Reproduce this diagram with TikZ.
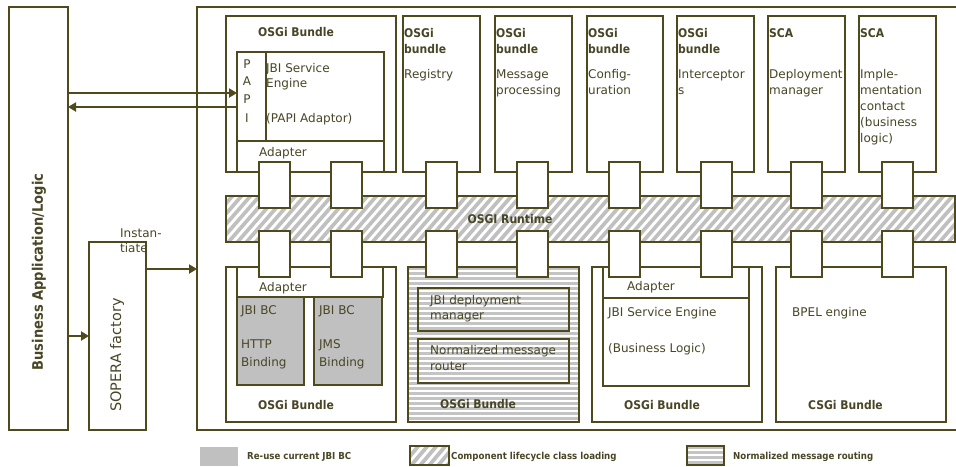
\documentclass[tikz,border=0pt]{standalone}
\usepackage{fontspec}
\setmainfont{DejaVu Sans}[BoldFeatures={FakeStretch=0.9}]
\usetikzlibrary{arrows.meta}
\definecolor{olv}{RGB}{78,74,30}
\definecolor{txt}{RGB}{72,70,38}
\definecolor{gfill}{RGB}{192,192,192}
\definecolor{sgray}{RGB}{196,196,196}
\tikzset{
  rbox/.style={draw=olv, line width=1.6pt, fill=white, anchor=north west, inner sep=0pt, outer sep=0pt},
  ebox/.style={draw=olv, line width=1.6pt, anchor=north west, inner sep=0pt, outer sep=0pt},
  gbox/.style={draw=olv, line width=1.6pt, fill=gfill, anchor=north west, inner sep=0pt, outer sep=0pt},
  conn/.style={draw=olv, line width=1.6pt, fill=white, anchor=north west, inner sep=0pt, outer sep=0pt, minimum width=31pt, minimum height=46pt},
  tx/.style={anchor=base west, inner sep=0pt, text=txt, font=\fontsize{12}{14}\selectfont},
  btx/.style={anchor=base west, inner sep=0pt, text=txt, font=\fontsize{12}{14}\selectfont\bfseries},
  ltx/.style={anchor=west, inner sep=0pt, text=txt, font=\fontsize{9.6}{11}\selectfont\bfseries},
  arr/.style={draw=olv, line width=2.6pt, -{Triangle[length=8pt,width=9pt]}},
}
\begin{document}
\begin{tikzpicture}[x=1pt,y=-1pt]
\useasboundingbox (0,0) rectangle (956,466);
% outer frames
\node[ebox, minimum width=800pt, minimum height=423pt] (outer) at (197,7) {};
\node[ebox, minimum width=59pt, minimum height=423pt] (biz) at (9,7) {};
\node[ebox, minimum width=57pt, minimum height=188pt] (sop) at (89,242) {};
\node[rotate=90, text=txt, font=\fontsize{14.5}{16}\selectfont\bfseries, inner sep=0pt] (biztx) at (39,272) {Business Application/Logic};
\node[rotate=90, text=txt, font=\fontsize{14.5}{16}\selectfont, inner sep=0pt] (soptx) at (117,355) {SOPERA factory};
\node[tx] (inst1) at (120,237) {Instan-};
\node[tx] (inst2) at (120,252) {tiate};

% top row bundles
\node[rbox, minimum width=170pt, minimum height=156pt] (papib) at (226,16) {};
\node[ebox, minimum width=147pt, minimum height=120pt] (jbi) at (237,52) {};
\draw[olv, line width=1.6pt] (jbi.west |- 0,141) coordinate (adl) -- (jbi.east |- 0,141) coordinate (adr);
\draw[olv, line width=1.6pt] (266,52) coordinate (pdt) -- (266,141) coordinate (pdb);
\node[btx] (t1) at (258,36) {OSGi Bundle};
\node[anchor=base, inner sep=0pt, text=txt, font=\fontsize{12}{14}\selectfont] (pp1) at (247,68) {P};
\node[anchor=base, inner sep=0pt, text=txt, font=\fontsize{12}{14}\selectfont] (pp2) at (247,85) {A};
\node[anchor=base, inner sep=0pt, text=txt, font=\fontsize{12}{14}\selectfont] (pp3) at (247,103) {P};
\node[anchor=base, inner sep=0pt, text=txt, font=\fontsize{12}{14}\selectfont] (pp4) at (247,122) {I};
\node[tx] (je1) at (266,72) {JBI Service};
\node[tx] (je2) at (266,87) {Engine};
\node[tx] (je3) at (266,122) {(PAPI Adaptor)};
\node[tx] (ad1) at (259,156) {Adapter};

\node[rbox, minimum width=77pt, minimum height=156pt] (reg) at (403,16) {};
\node[rbox, minimum width=77pt, minimum height=156pt] (msg) at (495,16) {};
\node[rbox, minimum width=76pt, minimum height=156pt] (cfg) at (587,16) {};
\node[rbox, minimum width=77pt, minimum height=156pt] (icp) at (677,16) {};
\node[rbox, minimum width=77pt, minimum height=156pt] (dep) at (768,16) {};
\node[rbox, minimum width=77pt, minimum height=156pt] (imp) at (859,16) {};

\node[btx] (reg1) at (404,37) {OSGi};
\node[btx] (reg2) at (404,53) {bundle};
\node[tx] (reg3) at (404,78) {Registry};
\node[btx] (msg1) at (496,37) {OSGi};
\node[btx] (msg2) at (496,53) {bundle};
\node[tx] (msg3) at (496,78) {Message};
\node[tx] (msg4) at (496,94) {processing};
\node[btx] (cfg1) at (588,37) {OSGi};
\node[btx] (cfg2) at (588,53) {bundle};
\node[tx] (cfg3) at (588,78) {Config-};
\node[tx] (cfg4) at (588,94) {uration};
\node[btx] (icp1) at (678,37) {OSGi};
\node[btx] (icp2) at (678,53) {bundle};
\node[tx] (icp3) at (678,78) {Interceptor};
\node[tx] (icp4) at (678,94) {s};
\node[btx] (dep1) at (769,37) {SCA};
\node[tx] (dep3) at (769,78) {Deployment};
\node[tx] (dep4) at (769,94) {manager};
\node[btx] (imp1) at (860,37) {SCA};
\node[tx] (imp3) at (860,78) {Imple-};
\node[tx] (imp4) at (860,94) {mentation};
\node[tx] (imp5) at (860,110) {contact};
\node[tx] (imp6) at (860,126) {(business};
\node[tx] (imp7) at (860,142) {logic)};

% runtime band
\node[ebox, minimum width=729pt, minimum height=46pt] (rt) at (226,196) {};
\begin{scope}
\clip (rt.north west) rectangle (rt.south east);
\fill[gfill] (rt.north west) rectangle (rt.south east);
\foreach \x in {170,179,...,980} \draw[white, line width=2.8pt] (\x,242) -- ++(40,-46);
\end{scope}
\draw[olv, line width=1.6pt] (rt.north west) rectangle (rt.south east);
\node[font=\fontsize{12}{14}\selectfont\bfseries, text=txt, inner sep=0pt] (rttx) at (510,219) {OSGI Runtime};

% lower bundles
\node[rbox, minimum width=170pt, minimum height=155pt] (lb1) at (226,267) {};
\node[ebox, minimum width=146pt, minimum height=30pt] (lad1) at (237,267) {};
\node[gbox, minimum width=67pt, minimum height=88pt] (bc1) at (237,297) {};
\node[gbox, minimum width=68pt, minimum height=88pt] (bc2) at (314,297) {};
\node[tx] (la1) at (259,291) {Adapter};
\node[tx] (bc1a) at (241,314) {JBI BC};
\node[tx] (bc1b) at (241,348) {HTTP};
\node[tx] (bc1c) at (241,366) {Binding};
\node[tx] (bc2a) at (319,314) {JBI BC};
\node[tx] (bc2b) at (319,348) {JMS};
\node[tx] (bc2c) at (319,366) {Binding};
\node[btx] (lb1t) at (258,409) {OSGi Bundle};

\node[ebox, minimum width=171pt, minimum height=155pt] (lb2) at (408,267) {};
\begin{scope}
\clip (lb2.north west) rectangle (lb2.south east);
\fill[white] (lb2.north west) rectangle (lb2.south east);
\foreach \y in {268.5,273.5,...,424} \draw[sgray, line width=2.5pt] (400,\y) -- (590,\y);
\end{scope}
\draw[olv, line width=1.6pt] (lb2.north west) rectangle (lb2.south east);
\node[ebox, minimum width=151pt, minimum height=43pt] (jdm) at (418,288) {};
\node[ebox, minimum width=151pt, minimum height=44pt] (nmr) at (418,339) {};
\node[tx] (jdm1) at (430,304) {JBI deployment};
\node[tx] (jdm2) at (430,319) {manager};
\node[tx] (nmr1) at (430,354) {Normalized message};
\node[tx] (nmr2) at (430,370) {router};
\node[btx] (lb2t) at (440,408) {OSGi Bundle};

\node[rbox, minimum width=170pt, minimum height=155pt] (lb3) at (592,267) {};
\node[ebox, minimum width=146pt, minimum height=119pt] (jse) at (603,267) {};
\draw[olv, line width=1.6pt] (jse.west |- 0,298) coordinate (jsl) -- (jse.east |- 0,298) coordinate (jsr);
\node[tx] (la3) at (627,290) {Adapter};
\node[tx] (jse1) at (608,316) {JBI Service Engine};
\node[tx] (jse2) at (608,352) {(Business Logic)};
\node[btx] (lb3t) at (624,409) {OSGi Bundle};

\node[rbox, minimum width=170pt, minimum height=155pt] (lb4) at (776,267) {};
\node[tx] (bpel) at (792,316) {BPEL engine};
\node[btx] (lb4t) at (808,409) {CSGi Bundle};

% connectors
\foreach \x [count=\i] in {259,331,426,517,609,701,791,882} {
  \node[conn] (ct\i) at (\x,162) {};
  \node[conn] (cb\i) at (\x,231) {};
}

% arrows
\coordinate (ya) at (0,93);
\coordinate (yb) at (0,107);
\coordinate (yc) at (0,336);
\coordinate (yd) at (0,269);
\draw[arr] (biz.east |- ya) -- (jbi.west |- ya);
\draw[arr] (jbi.west |- yb) -- (biz.east |- yb);
\draw[arr] (biz.east |- yc) -- (sop.west |- yc);
\draw[arr] (sop.east |- yd) -- (outer.west |- yd);

% legend
\node[anchor=north west, fill=gfill, inner sep=0pt, minimum width=38pt, minimum height=19pt] (lg1) at (200,447) {};
\node[ltx] (lg1t) at (247,457) {Re-use current JBI BC};
\node[anchor=north west, inner sep=0pt, outer sep=0pt, minimum width=39pt, minimum height=19pt] (lg2) at (410,446) {};
\begin{scope}
\clip (lg2.north west) rectangle (lg2.south east);
\fill[gfill] (lg2.north west) rectangle (lg2.south east);
\foreach \x in {380,389,...,460} \draw[white, line width=2.8pt] (\x,465) -- ++(16,-19);
\end{scope}
\draw[olv, line width=1.6pt] (lg2.north west) rectangle (lg2.south east);
\node[ltx] (lg2t) at (451,457) {Component lifecycle class loading};
\node[anchor=north west, inner sep=0pt, outer sep=0pt, minimum width=37pt, minimum height=19pt] (lg3) at (687,446) {};
\begin{scope}
\clip (lg3.north west) rectangle (lg3.south east);
\fill[white] (lg3.north west) rectangle (lg3.south east);
\foreach \y in {447.5,452.5,...,466} \draw[sgray, line width=2.5pt] (680,\y) -- (730,\y);
\end{scope}
\draw[olv, line width=1.6pt] (lg3.north west) rectangle (lg3.south east);
\node[ltx] (lg3t) at (733,457) {Normalized message routing};
\end{tikzpicture}
\end{document}
